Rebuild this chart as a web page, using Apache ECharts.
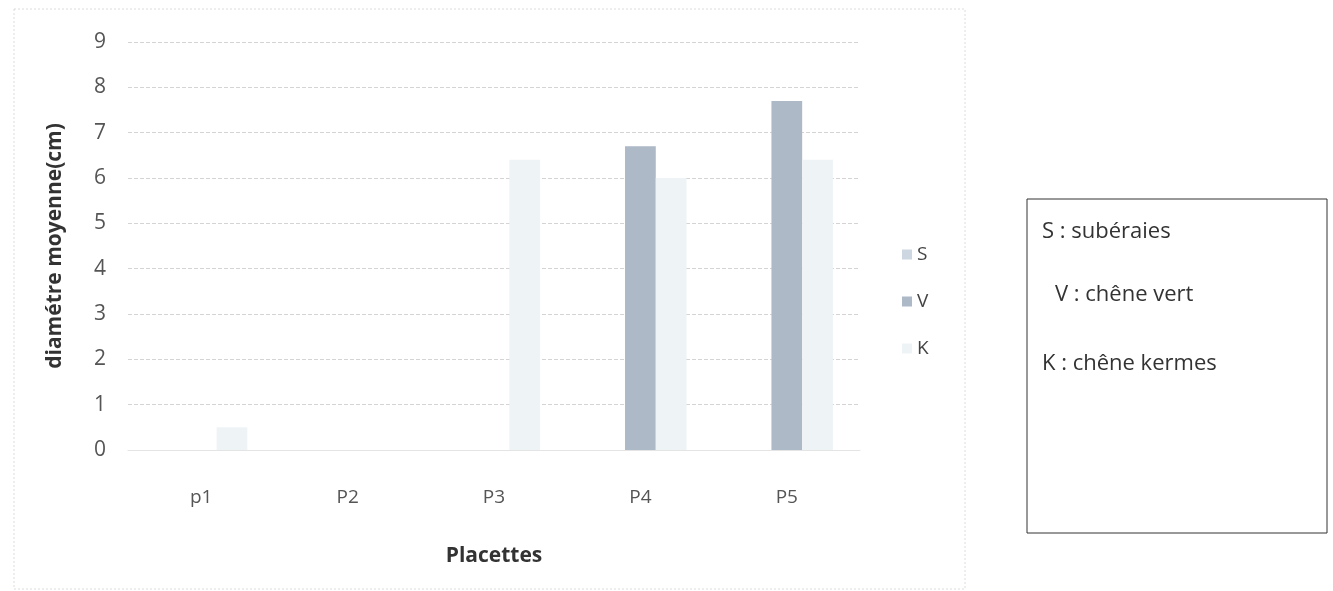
<!DOCTYPE html>
<html><head><meta charset="utf-8">
<script src="https://cdn.jsdelivr.net/npm/echarts@6/dist/echarts.min.js"></script>
<style>html,body{margin:0;padding:0;background:#fff;}#c{width:1333px;height:591px;}</style>
</head><body><div id="c"></div>
<script>
const categories = ['p1', 'P2', 'P3', 'P4', 'P5'];
const seriesS = [0, 0, 0, 0, 0];
const seriesV = [0, 0, 0, 6.7, 7.7];
const seriesK = [0.5, 0, 6.4, 6.0, 6.4];
const yTicks = [0, 1, 2, 3, 4, 5, 6, 7, 8, 9];
const legendNotes = ['S : subéraies', 'V : chêne vert', 'K : chêne kermes'];

const FONT = '"Open Sans", Lato, sans-serif';
const chart = echarts.init(document.getElementById('c'));
chart.setOption({
  backgroundColor: '#fff',
  animation: false,
  grid: { left: 128, right: 1333 - 860, top: 42, bottom: 591 - 450 },
  legend: {
    orient: 'vertical', left: 897, top: 240, itemGap: 28,
    itemWidth: 10, itemHeight: 10, icon: 'rect',
    textStyle: { fontFamily: FONT, fontSize: 19, color: '#444' },
    data: ['S', 'V', 'K']
  },
  xAxis: {
    type: 'category', data: categories,
    axisLine: { show: true, lineStyle: { color: '#e4e4e4' } },
    axisTick: { show: false },
    axisLabel: { fontFamily: FONT, fontSize: 19, color: '#555', margin: 38 },
    name: 'Placettes', nameLocation: 'middle', nameGap: 96,
    nameTextStyle: { fontFamily: FONT, fontSize: 21, fontWeight: 'bold', color: '#333' }
  },
  yAxis: {
    type: 'value', min: 0, max: 9, interval: 1,
    axisLine: { show: false }, axisTick: { show: false },
    axisLabel: { fontFamily: FONT, fontSize: 21, color: '#555', margin: 22,
      formatter: v => yTicks.includes(v) ? String(v) : '' },
    splitLine: { lineStyle: { color: '#d4d4d4', type: 'dashed', width: 1 } },
    name: 'diamétre moyenne(cm)', nameLocation: 'middle', nameGap: 62, nameRotate: 90,
    nameTextStyle: { fontFamily: FONT, fontSize: 21, fontWeight: 'bold', color: '#333' }
  },
  series: [
    { name: 'S', type: 'bar', data: seriesS, barGap: '0%', barCategoryGap: '37%',
      itemStyle: { color: '#cdd7e1' } },
    { name: 'V', type: 'bar', data: seriesV,
      itemStyle: { color: '#adb9c6' } },
    { name: 'K', type: 'bar', data: seriesK,
      itemStyle: { color: '#eef3f6' } }
  ],
  graphic: [
    { type: 'rect', shape: { x: 14, y: 9, width: 951, height: 580 },
      style: { fill: 'none', stroke: '#dcdcdc', lineWidth: 1, lineDash: [2, 2] }, z: -1 },
    { type: 'rect', shape: { x: 1027, y: 199, width: 300, height: 334 },
      style: { fill: '#fff', stroke: '#333', lineWidth: 1 } },
    { type: 'text', left: 1042, top: 221,
      style: { text: legendNotes[0], font: '22px ' + FONT, fill: '#333' } },
    { type: 'text', left: 1055, top: 284,
      style: { text: legendNotes[1], font: '22px ' + FONT, fill: '#333' } },
    { type: 'text', left: 1042, top: 353,
      style: { text: legendNotes[2], font: '22px ' + FONT, fill: '#333' } }
  ]
});
</script></body></html>
